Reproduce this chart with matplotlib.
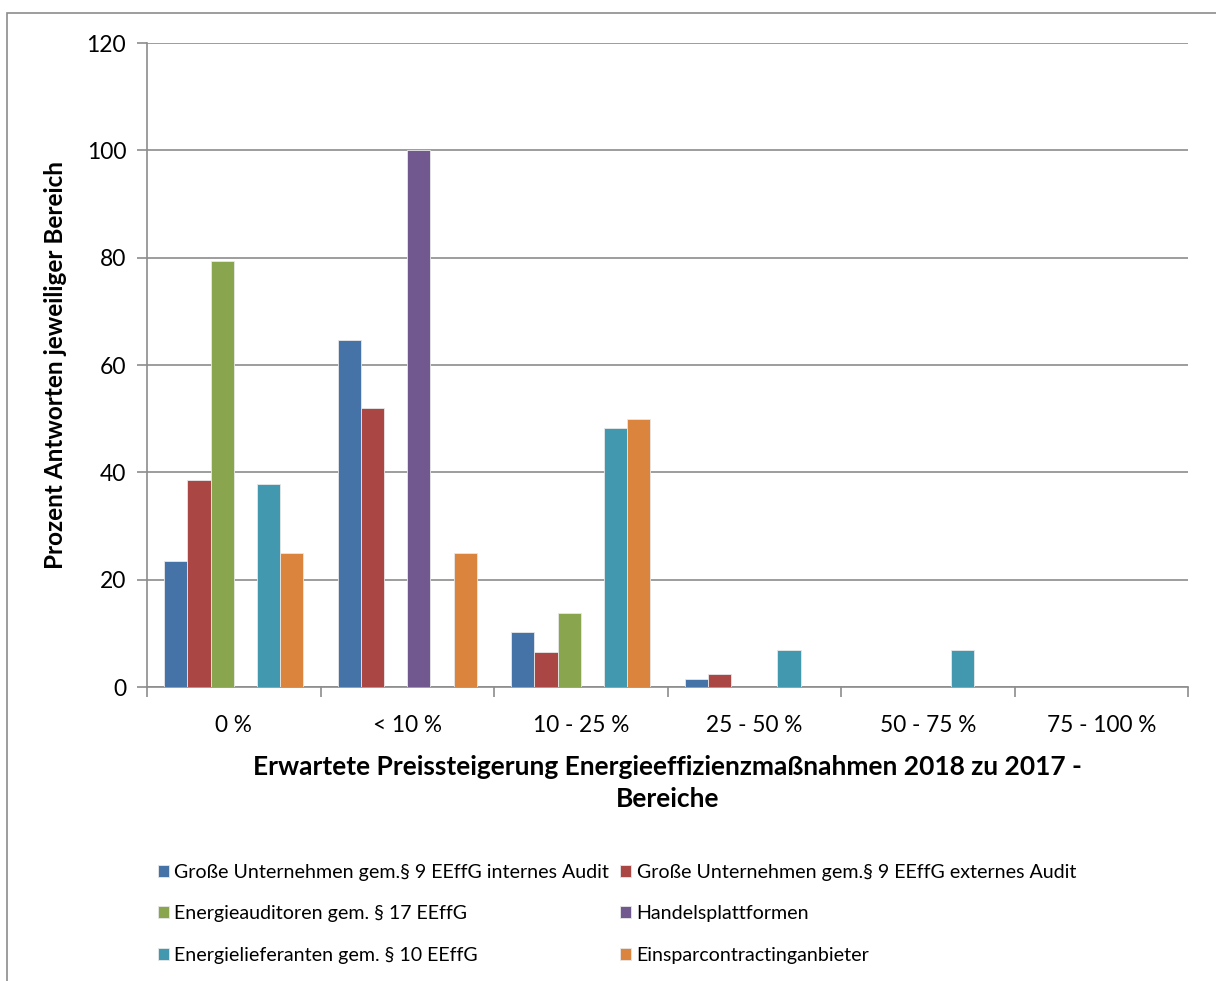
import numpy as np
import matplotlib.pyplot as plt
from matplotlib.patches import Rectangle

plt.rcParams['font.family'] = ['Lato', 'DejaVu Sans']

categories = ['0 %', '< 10 %', '10 - 25 %', '25 - 50 %', '50 - 75 %', '75 - 100 %']
series_names = [
    'Große Unternehmen gem.§ 9 EEffG internes Audit',
    'Große Unternehmen gem.§ 9 EEffG externes Audit',
    'Energieauditoren gem. § 17 EEffG',
    'Handelsplattformen',
    'Energielieferanten gem. § 10 EEffG',
    'Einsparcontractinganbieter',
]
intern_audit = [23.5, 64.7, 10.2, 1.4, 0, 0]
extern_audit = [38.6, 52.0, 6.6, 2.4, 0, 0]
auditoren = [79.3, 0, 13.8, 0, 0, 0]
handel = [0, 100, 0, 0, 0, 0]
lieferanten = [37.9, 0, 48.3, 6.9, 6.9, 0]
contracting = [25.0, 25.0, 50.0, 0, 0, 0]
values = [intern_audit, extern_audit, auditoren, handel, lieferanten, contracting]
colors = ['#4572A7', '#AA4643', '#89A54E', '#71588F', '#4198AF', '#DB843D']

fig = plt.figure(figsize=(12.16, 9.81), dpi=100)
ax = fig.add_axes([147 / 1216, 1 - 687 / 981, (1188 - 147) / 1216, (687 - 43) / 981])

x = np.arange(len(categories))
w = 0.8 / 6
handles = []
for i, (vals, c) in enumerate(zip(values, colors)):
    b = ax.bar(x - 0.4 + w * (i + 0.5), vals, width=w, color=c,
               edgecolor='#e8e8e8', linewidth=0.6, zorder=3, label=series_names[i])
    handles.append(b)

ax.set_xlim(-0.5, len(categories) - 0.5)
ax.set_ylim(0, 120)
ax.set_yticks(range(0, 121, 20))
ax.set_xticks(np.arange(len(categories) + 1) - 0.5, minor=False)
ax.set_xticklabels([])
ax.set_xticks(x, minor=True)
ax.set_xticklabels(categories, minor=True, fontsize=16.3)
ax.tick_params(axis='x', which='minor', length=0, pad=20)
ax.tick_params(axis='x', which='major', length=7, width=1.2, color='#8c8c8c', direction='out')
ax.tick_params(axis='y', length=7, width=1.2, color='#8c8c8c', direction='out', labelsize=16.5, pad=8)
ax.yaxis.grid(True, color='#8c8c8c', linewidth=1.2, zorder=0)
for side in ['top', 'right']:
    ax.spines[side].set_visible(False)
for side in ['left', 'bottom']:
    ax.spines[side].set_color('#8c8c8c')
    ax.spines[side].set_linewidth(1.2)

ax.set_ylabel('Prozent Antworten jeweiliger Bereich', fontsize=17.5, fontweight='bold', labelpad=14)
ax.set_xlabel('Erwartete Preissteigerung Energieeffizienzmaßnahmen 2018 zu 2017 -\nBereiche',
              fontsize=19, fontweight='bold', labelpad=14, linespacing=1.4)

# legend fills row by row: reorder for matplotlib's column-wise filling
order = [0, 2, 4, 1, 3, 5]
fig.legend([handles[i] for i in order], [series_names[i] for i in order],
           ncol=2, loc='upper left', bbox_to_anchor=(148 / 1216, 1 - 854 / 981),
           frameon=False, fontsize=14.1, handlelength=0.55, handleheight=0.55,
           handletextpad=0.3, columnspacing=0.55, labelspacing=1.25, borderpad=0)

# outer chart frame
fig.patches.append(Rectangle((7 / 1216, -0.1), 2, 1.1 - 13 / 981, transform=fig.transFigure,
                             fill=False, edgecolor='#8c8c8c', linewidth=1.2))

fig.savefig('out.png', dpi=100)
